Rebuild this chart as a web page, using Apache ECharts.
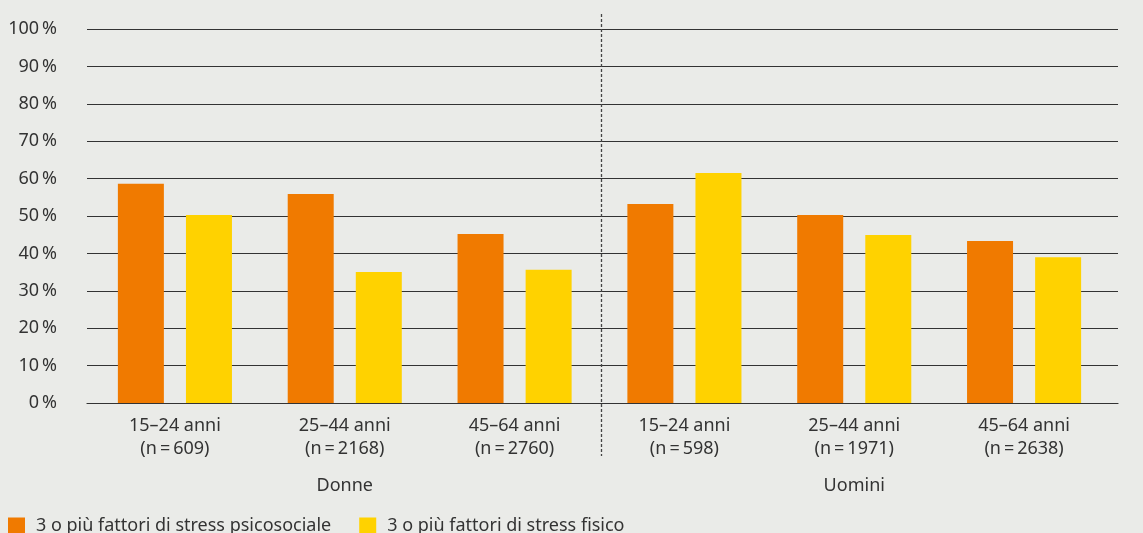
<!DOCTYPE html>
<html>
<head>
<meta charset="utf-8">
<script src="https://cdn.jsdelivr.net/npm/echarts@6/dist/echarts.min.js"></script>
<style>
  html, body { margin: 0; padding: 0; background: #eaebe8; }
  #grafico { width: 1143px; height: 533px; }
</style>
</head>
<body>
<div id="grafico"></div>
<script>
    // dati
    var fasceEta = ['15–24 anni', '25–44 anni', '45–64 anni', '15–24 anni', '25–44 anni', '45–64 anni'];
    var campioni = ['609', '2168', '2760', '598', '1971', '2638'];
    var gruppi = ['Donne', 'Uomini'];
    var psicosociale = [58.6, 55.9, 45.2, 53.2, 50.3, 43.3];
    var fisico = [50.3, 35.0, 35.6, 61.5, 44.9, 39.0];
    var nomiSerie = ['3 o più fattori di stress psicosociale', '3 o più fattori di stress fisico'];

    var categorie = fasceEta.map(function (f, i) {
        return f + '\n(n\u2009=\u2009' + campioni[i] + ')';
    });

    var dom = document.getElementById('grafico');
    var myChart = echarts.init(dom, null, { renderer: 'canvas' });

    var font = '"Noto Sans", "Open Sans", sans-serif';

    var option = {
        backgroundColor: '#eaebe8',
        animation: false,
        textStyle: { fontFamily: font },
        // griglia 0: linee di sfondo e asse y; griglia 1: barre
        grid: [
            { left: 87, right: 25, top: 29, bottom: 130 },
            { left: 90, right: 34, top: 29, bottom: 130 }
        ],
        legend: {
            left: 8,
            top: 517,
            padding: 0,
            icon: 'rect',
            itemWidth: 17,
            itemHeight: 17,
            itemGap: 28,
            textStyle: { fontSize: 18, color: '#333', fontFamily: font, padding: [4, 0, 0, 6] },
            data: nomiSerie
        },
        xAxis: [{
            gridIndex: 0,
            type: 'category',
            data: gruppi,
            axisLine: { lineStyle: { color: '#333', width: 1.2 } },
            axisTick: { show: false },
            axisLabel: { show: false }
        }, {
            gridIndex: 1,
            type: 'category',
            data: categorie,
            axisLine: { show: false },
            axisTick: { show: false },
            axisLabel: {
                color: '#333',
                fontSize: 18,
                lineHeight: 23,
                margin: 11,
                fontFamily: font
            }
        }, {
            gridIndex: 1,
            type: 'category',
            data: gruppi,
            position: 'bottom',
            axisLine: { show: false },
            axisTick: { show: false },
            axisLabel: { color: '#333', fontSize: 18, lineHeight: 20, margin: 73, fontFamily: font }
        }],
        yAxis: [{
            gridIndex: 0,
            type: 'value',
            min: 0,
            max: 100,
            interval: 10,
            axisLine: { show: false },
            axisTick: { show: false },
            axisLabel: {
                color: '#333',
                fontSize: 18,
                margin: 30,
                fontFamily: font,
                formatter: function (v) { return v + '\u2009%'; }
            },
            splitLine: { lineStyle: { color: '#333', width: 1.2 } }
        }, {
            gridIndex: 1,
            type: 'value',
            min: 0,
            max: 100,
            interval: 10,
            show: false,
            splitLine: { show: false }
        }],
        series: [{
            name: nomiSerie[0],
            type: 'bar',
            xAxisIndex: 1,
            yAxisIndex: 1,
            data: psicosociale,
            barWidth: 46,
            barGap: '48%',
            itemStyle: { color: '#f07a00' }
        }, {
            name: nomiSerie[1],
            type: 'bar',
            xAxisIndex: 1,
            yAxisIndex: 1,
            data: fisico,
            barWidth: 46,
            itemStyle: { color: '#ffd200' }
        }]
    };

    option && myChart.setOption(option);

    // linea tratteggiata tra Donne e Uomini
    var xa = myChart.convertToPixel({ xAxisIndex: 1 }, categorie[2]);
    var xb = myChart.convertToPixel({ xAxisIndex: 1 }, categorie[3]);
    var xd = Math.round((xa + xb) / 2) + 1.5;
    myChart.setOption({
        graphic: [{
            type: 'line',
            shape: { x1: xd, y1: 14, x2: xd, y2: 456 },
            style: { stroke: '#444', lineWidth: 1.3, lineDash: [3, 2] },
            z: 10
        }]
    });
</script>
</body>
</html>
